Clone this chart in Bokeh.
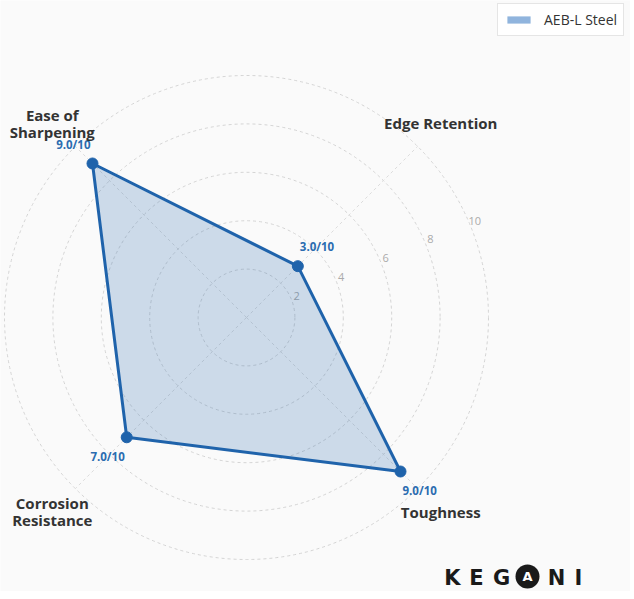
import math
from bokeh.plotting import figure
from bokeh.models import Legend, LegendItem
from bokeh.core.properties import value
from bokeh.embed import file_html
from bokeh.resources import INLINE

# ---- data ----
categories = ["Edge Retention", "Toughness", "Corrosion Resistance", "Ease of Sharpening"]
category_labels = ["Edge Retention", "Toughness", "Corrosion\nResistance", "Ease of\nSharpening"]
scores = [3.0, 9.0, 7.0, 9.0]
angles_deg = [45, -45, -135, 135]
ring_values = [2, 4, 6, 8, 10]
ring_labels = ["2", "4", "6", "8", "10"]
series_name = "AEB-L Steel"
max_value = 10

# ---- geometry ----
S = 24.2  # px per unit
CX, CY = 246, 317  # screenshot coords of centre
W, H = 630, 591
OX, OY = 0, 0  # screenshot coords of canvas origin

def px(xp, yp):
    return (xp - CX) / S, (CY - yp) / S

x0, y1 = px(OX, OY)
x1, y0 = px(OX + W, OY + H)

BG = "#fafafa"
LINE = "#1f63ab"

p = figure(width=W, height=H, x_range=(x0, x1), y_range=(y0, y1),
           output_backend="svg", toolbar_location=None, min_border=0,
           background_fill_color=BG, border_fill_color=BG, outline_line_color=None)
p.axis.visible = False
p.grid.visible = False

# rings
p.circle(x=[0] * len(ring_values), y=[0] * len(ring_values), radius=ring_values,
         fill_color=None, line_color="#d4d4d4", line_width=1, line_dash="3 3")

# spokes
for a in angles_deg:
    r = math.radians(a)
    p.line([0, max_value * math.cos(r)], [0, max_value * math.sin(r)],
           line_color="#dcdcdc", line_width=1, line_dash="3 3")

# ring tick labels
tick_ang = math.radians(23)
p.text(x=[(v + 0.25) * math.cos(tick_ang) for v in ring_values],
       y=[(v + 0.25) * math.sin(tick_ang) for v in ring_values],
       text=ring_labels, text_align="center", text_baseline="middle",
       text_font=value("Open Sans"), text_font_size="11px", text_color="#aaaaaa")

# polygon
xs = [s * math.cos(math.radians(a)) for s, a in zip(scores, angles_deg)]
ys = [s * math.sin(math.radians(a)) for s, a in zip(scores, angles_deg)]
p.patch(xs + [xs[0]], ys + [ys[0]], fill_color=LINE, fill_alpha=0.21,
        line_color=LINE, line_width=3, line_join="round")
p.scatter(xs, ys, size=11, fill_color=LINE, line_color=LINE)

# value labels
off = 1.12
p.text(x=[(s + off) * math.cos(math.radians(a)) for s, a in zip(scores, angles_deg)],
       y=[(s + off) * math.sin(math.radians(a)) for s, a in zip(scores, angles_deg)],
       text=[f"{s:.1f}/10" for s in scores], text_align="center", text_baseline="middle",
       text_font=value("Open Sans"), text_font_size="11.5px", text_font_style="bold",
       text_color="#2b6cb0")

# category labels
lab_r = 11.35
p.text(x=[lab_r * math.cos(math.radians(a)) for a in angles_deg],
       y=[lab_r * math.sin(math.radians(a)) for a in angles_deg],
       text=category_labels, text_align="center", text_baseline="middle",
       text_font=value("Open Sans"), text_font_size="15px", text_font_style="bold",
       text_color="#333333", text_line_height=0.85)

# legend (dummy swatch)
sw = p.rect(x=[0], y=[0], width=0, height=0, fill_color="#90b4dd", line_color=None)
legend = Legend(items=[LegendItem(label=series_name, renderers=[sw])],
                location=(497, H - 36), margin=0, padding=6, label_standoff=11,
                glyph_width=29, glyph_height=9,
                label_text_font="Open Sans", label_text_font_size="14px", label_text_color="#333333",
                border_line_color="#cccccc", background_fill_color="#ffffff", background_fill_alpha=1)
p.add_layout(legend)

# logo
letters = ["K", "E", "G", "N", "I"]
lx = [452, 476, 501, 556, 578]
pts = [px(x, 577) for x in lx]
p.text(x=[q[0] for q in pts], y=[q[1] for q in pts], text=letters, text_align="center",
       text_baseline="middle", text_font=value("DejaVu Sans"), text_font_size="21px",
       text_font_style="bold", text_color="#1a1a1a")
cxl, cyl = px(527, 576)
p.scatter([cxl], [cyl], size=24, marker="circle", fill_color="#1a1a1a", line_color=None)
p.text(x=[cxl], y=[cyl - 0.02], text=["A"], text_align="center", text_baseline="middle",
       text_font=value("DejaVu Sans"), text_font_size="13px", text_font_style="bold",
       text_color="#ffffff")

open("out.html", "w").write(file_html(p, INLINE))
